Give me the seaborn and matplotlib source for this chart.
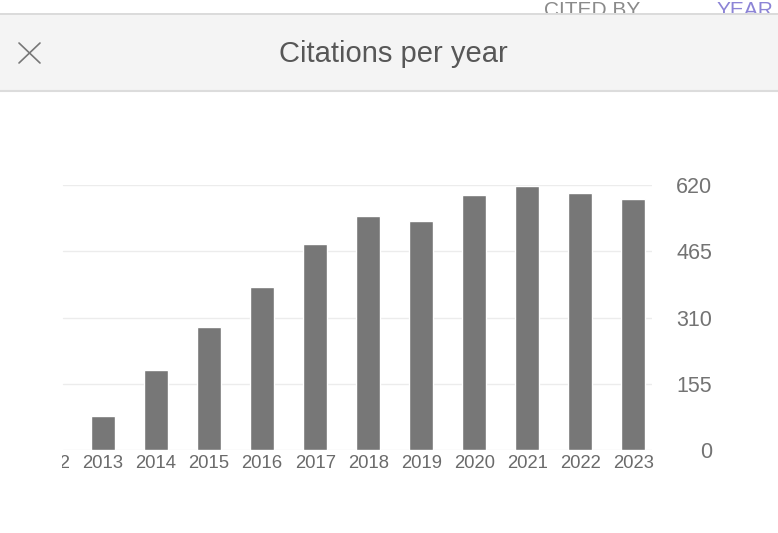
import matplotlib
matplotlib.use("Agg")
import matplotlib.pyplot as plt
import seaborn as sns
import pandas as pd
from matplotlib.patches import Rectangle
from matplotlib.lines import Line2D
from matplotlib.transforms import Bbox

# ---- data ----
years = ["2013", "2014", "2015", "2016", "2017", "2018", "2019", "2020", "2021", "2022", "2023"]
citations = [80, 187, 288, 381, 482, 547, 535, 597, 617, 601, 587]
axis_years = ["2012"] + years          # 2012 column is scrolled out of view
y_ticks = [0, 155, 310, 465, 620]
title = "Citations per year"
tab_labels = ["CITED BY", "YEAR"]

sns.set_theme(style="white")
plt.rcParams["font.family"] = ["Liberation Sans", "DejaVu Sans"]

W, H = 778, 533
fig = plt.figure(figsize=(W / 100, H / 100), dpi=100)
fig.patch.set_facecolor("white")

def fx(px):
    return px / W

def fy(py):
    return 1 - py / H

# ---- chart axes ----
vis_left, right, top, bottom = 63, 652, 185, 450
step = 53.05                       # px per category
x_lo, x_hi = -0.5, 11.35
left = vis_left - (0.246 - x_lo) * step
ax = fig.add_axes([fx(left), fy(bottom), fx(right - left), (bottom - top) / H])
df = pd.DataFrame({"year": years, "citations": citations})
sns.barplot(data=df, x="year", y="citations", order=axis_years, color="#777777",
            width=0.45, saturation=1, ax=ax, zorder=3)
ax.set_xlim(x_lo, x_hi)
ax.set_ylim(0, 620)
ax.set_xlabel("")
ax.set_ylabel("")
for s in ax.spines.values():
    s.set_visible(False)
ax.set_yticks(y_ticks)
ax.set_yticklabels([str(v) for v in y_ticks])
ax.yaxis.tick_right()
ax.tick_params(axis="y", length=0, pad=43.2, labelsize=15.5, labelcolor="#737373")
for lbl in ax.get_yticklabels():
    lbl.set_horizontalalignment("right")
ax.tick_params(axis="x", length=0, pad=3.5, labelsize=13.3, labelcolor="#6a6a6a")
ax.grid(False)
gx0 = (vis_left - left) / (right - left)
for v in y_ticks:
    ax.axhline(v, xmin=gx0, xmax=1, color="#ececec", linewidth=1.0, zorder=0)

# clip x tick labels at the chart container's left edge
clip = Bbox.from_extents(62, 0, W, H)
for lbl in ax.get_xticklabels():
    lbl.set_clip_on(True)
    lbl.set_clip_box(clip)

# ---- header / tabs ----
ov = fig.add_axes([0, 0, 1, 1], zorder=10)
ov.set_xlim(0, W)
ov.set_ylim(H, 0)
ov.axis("off")
ov.patch.set_alpha(0)

ov.text(592, 15.5, tab_labels[0], ha="center", va="baseline", fontsize=15,
        color="#8a8a8a", zorder=1)
ov.text(745, 15.5, tab_labels[1], ha="center", va="baseline", fontsize=15,
        color="#8c84d6", zorder=1)

ov.add_patch(Rectangle((0, 13), W, 78, facecolor="#f4f4f4", edgecolor="none", zorder=2))
ov.add_line(Line2D([0, W], [13.5, 13.5], color="#d6d6d6", linewidth=1.2, zorder=3))
ov.add_line(Line2D([0, W], [91, 91], color="#dcdcdc", linewidth=1.5, zorder=3))

ov.text(393, 61.5, title, ha="center", va="baseline", fontsize=21, color="#575757", zorder=4)
ov.add_line(Line2D([19, 40], [43, 63], color="#777777", linewidth=1.2, zorder=4))
ov.add_line(Line2D([19, 40], [63, 43], color="#777777", linewidth=1.2, zorder=4))

fig.savefig("out.png", dpi=100, facecolor="white")
